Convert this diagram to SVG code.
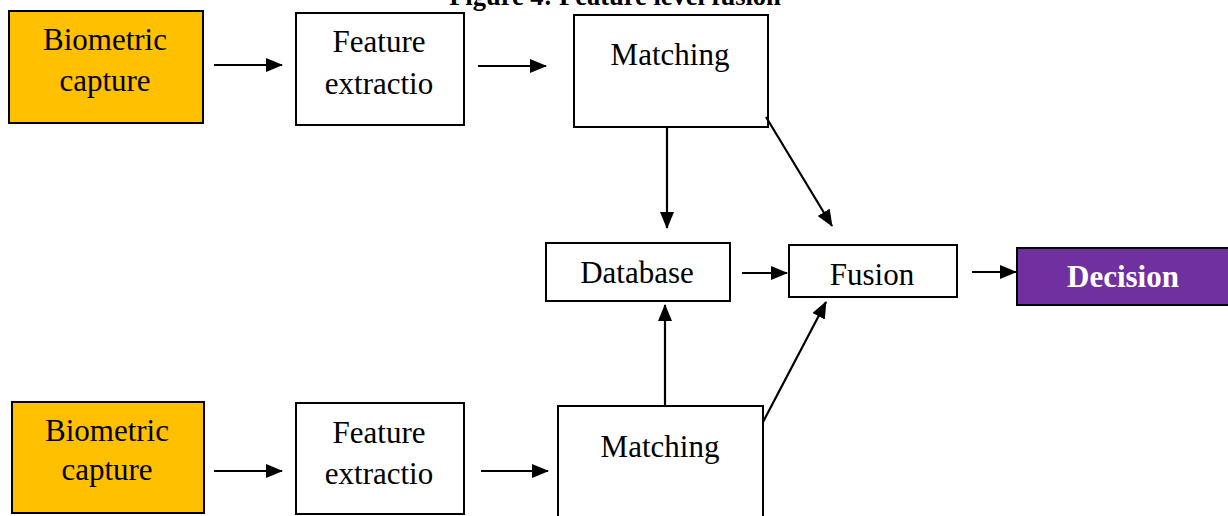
<svg xmlns="http://www.w3.org/2000/svg" width="1228" height="516" viewBox="0 0 1228 516">
  <style>
    .box { fill: #ffffff; stroke: #000000; stroke-width: 2; }
    .capture { fill: #ffc000; stroke: #000000; stroke-width: 2; }
    .decision { fill: #7030a0; stroke: #000000; stroke-width: 2; }
    .label { font-family: "Liberation Serif", "Times New Roman", serif; font-size: 31px; fill: #000000; text-anchor: middle; }
    .label-bold { font-family: "Liberation Serif", "Times New Roman", serif; font-size: 31px; font-weight: bold; fill: #ffffff; text-anchor: middle; }
    .title { font-family: "Liberation Serif", "Times New Roman", serif; font-size: 26.5px; font-weight: bold; fill: #000000; text-anchor: middle; }
    .link { fill: none; stroke: #000000; stroke-width: 2.2; marker-end: url(#arrow); }
  </style>
  <defs>
    <marker id="arrow" markerUnits="userSpaceOnUse" markerWidth="17" markerHeight="14" refX="16" refY="7" orient="auto">
      <path d="M0,0 L17,7 L0,14 z" fill="#000000"/>
    </marker>
  </defs>

  <rect x="0" y="0" width="1228" height="516" fill="#ffffff"/>

  <text class="title" x="615" y="5">Figure 4: Feature level fusion</text>

  <g id="capture-1">
    <rect class="capture" x="9" y="11" width="194" height="112"/>
    <text class="label" x="105" y="50">Biometric</text>
    <text class="label" x="105" y="91">capture</text>
  </g>

  <g id="extract-1">
    <rect class="box" x="296" y="13" width="168" height="112"/>
    <text class="label" x="379" y="52">Feature</text>
    <text class="label" x="379" y="94">extractio</text>
  </g>

  <g id="matching-1">
    <rect class="box" x="574" y="15" width="194" height="112"/>
    <text class="label" x="670" y="65">Matching</text>
  </g>

  <g id="database">
    <rect class="box" x="546" y="243" width="184" height="58"/>
    <text class="label" x="637" y="283">Database</text>
  </g>

  <g id="fusion">
    <rect class="box" x="789" y="245" width="168" height="52"/>
    <text class="label" x="872" y="285">Fusion</text>
  </g>

  <g id="decision">
    <rect class="decision" x="1017" y="248" width="220" height="57"/>
    <text class="label-bold" x="1123" y="287">Decision</text>
  </g>

  <g id="capture-2">
    <rect class="capture" x="12" y="402" width="192" height="111"/>
    <text class="label" x="107" y="441">Biometric</text>
    <text class="label" x="107" y="480">capture</text>
  </g>

  <g id="extract-2">
    <rect class="box" x="296" y="403" width="168" height="111"/>
    <text class="label" x="379" y="443">Feature</text>
    <text class="label" x="379" y="484">extractio</text>
  </g>

  <g id="matching-2">
    <rect class="box" x="558" y="406" width="205" height="130"/>
    <text class="label" x="660" y="457">Matching</text>
  </g>

  <g id="connectors">
    <line class="link" x1="214" y1="65" x2="282" y2="65"/>
    <line class="link" x1="478" y1="66" x2="546" y2="66"/>
    <line class="link" x1="667" y1="128" x2="667" y2="228"/>
    <line class="link" x1="766" y1="117" x2="832" y2="226"/>
    <line class="link" x1="742" y1="273" x2="787" y2="273"/>
    <line class="link" x1="972" y1="272" x2="1016" y2="272"/>
    <line class="link" x1="214" y1="471" x2="282" y2="471"/>
    <line class="link" x1="481" y1="471" x2="548" y2="471"/>
    <line class="link" x1="665" y1="405" x2="665" y2="305"/>
    <line class="link" x1="763" y1="422" x2="826" y2="302"/>
  </g>
</svg>
